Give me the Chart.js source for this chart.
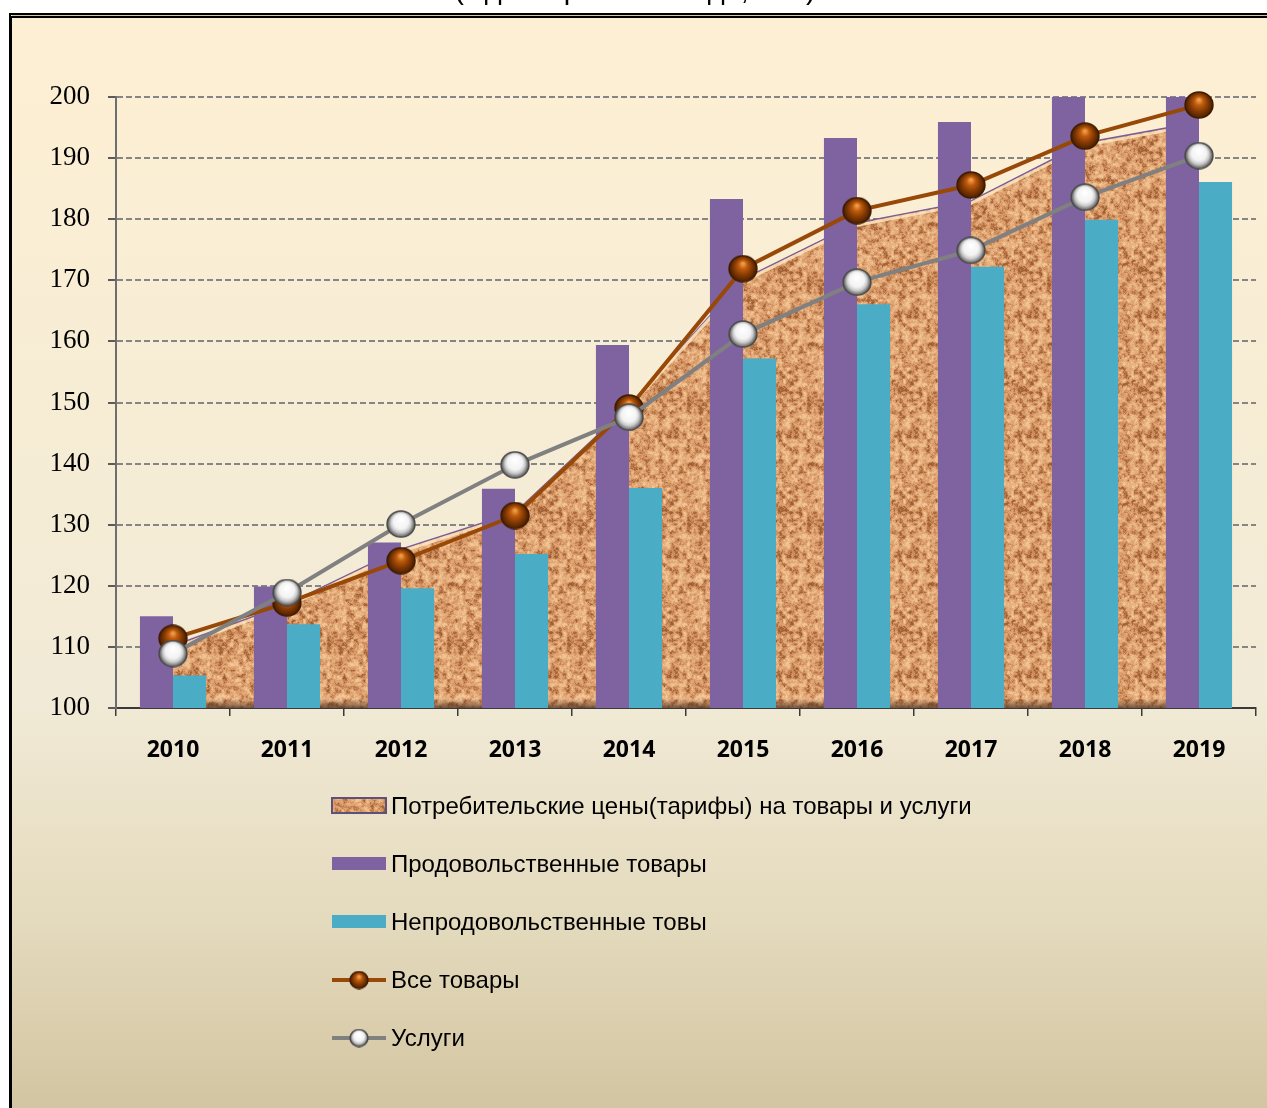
<!DOCTYPE html>
<html lang="ru">
<head>
<meta charset="utf-8">
<title>Индексы цен</title>
<script src="https://cdn.jsdelivr.net/npm/chart.js@4.4.1/dist/chart.umd.min.js"></script>
<style>
  html, body { margin: 0; padding: 0; background: #fff; }
  body { width: 1267px; height: 1108px; position: relative; overflow: hidden; }
  #frame {
    position: absolute; left: 9px; top: 13px; width: 1270px; height: 1100px;
    border-top: 5px double #000; border-left: 3px solid #000;
    background: linear-gradient(to bottom, #fdefd3 0%, #f7edd5 35%, #f1ead6 62%, #e4dabd 82%, #d2c4a0 100%);
  }
  #chart { position: absolute; left: 0; top: 0; }
</style>
</head>
<body>
<div id="frame"></div>
<canvas id="chart" width="1267" height="1108"></canvas>
<script>
const titleText = '(к декабрю 2009 года, в %)';
const years = ['2010', '2011', '2012', '2013', '2014', '2015', '2016', '2017', '2018', '2019'];
const consumerPrices = [110.2, 117.0, 126.0, 132.0, 149.5, 170.2, 179.4, 183.0, 192.5, 195.9];
const foodGoods = [115.0, 119.9, 127.1, 135.9, 159.4, 183.3, 193.3, 195.9, 200.5, 203.0];
const nonFoodGoods = [105.3, 113.7, 119.6, 125.2, 136.0, 157.2, 166.1, 172.2, 179.9, 186.1];
const allGoods = [111.4, 117.2, 124.1, 131.5, 149.1, 171.9, 181.4, 185.6, 193.6, 198.7];
const services = [108.9, 118.9, 130.1, 139.8, 147.6, 161.2, 169.7, 174.9, 183.6, 190.4];
const seriesNames = [
  'Потребительские цены(тарифы) на товары и услуги',
  'Продовольственные товары',
  'Непродовольственные товы',
  'Все товары',
  'Услуги'
];
const yMin = 100, yMax = 200, yStep = 10;

const purple = '#7f63a1';
const teal = '#4bacc6';
const brown = '#984807';
const grey = '#808080';

// cork-like texture for the area series
function makeCorkPattern() {
  const size = 120;
  const c = document.createElement('canvas');
  c.width = c.height = size;
  const g = c.getContext('2d');
  const img = g.createImageData(size, size);
  const hash = (ix, iy, seed) => {
    let h = Math.imul(ix * 374761393 + iy * 668265263 + seed * 2246822519, 1) ^ 0x5bd1e995;
    h = Math.imul(h ^ (h >>> 13), 1274126177);
    return ((h ^ (h >>> 16)) >>> 0) / 4294967295;
  };
  const noise = (x, y, cell, seed) => {
    const n = size / cell;
    const gx = x / cell, gy = y / cell;
    const x0 = Math.floor(gx), y0 = Math.floor(gy);
    const fx = gx - x0, fy = gy - y0;
    const sx = fx * fx * (3 - 2 * fx), sy = fy * fy * (3 - 2 * fy);
    const a = hash(x0 % n, y0 % n, seed), b = hash((x0 + 1) % n, y0 % n, seed);
    const c2 = hash(x0 % n, (y0 + 1) % n, seed), d = hash((x0 + 1) % n, (y0 + 1) % n, seed);
    return (a + (b - a) * sx) * (1 - sy) + (c2 + (d - c2) * sx) * sy;
  };
  const dark = [158, 94, 50], mid = [216, 152, 102], light = [243, 198, 150];
  for (let y = 0; y < size; y++) {
    for (let x = 0; x < size; x++) {
      let t = 0.5 * noise(x, y, 4, 1) + 0.32 * noise(x, y, 2, 2) + 0.18 * noise(x, y, 1, 3);
      t = Math.min(1, Math.max(0, (t - 0.22) / 0.56));
      const from = t < 0.42 ? dark : mid, to = t < 0.42 ? mid : light;
      const k = t < 0.42 ? t / 0.42 : (t - 0.42) / 0.58;
      const i = (y * size + x) * 4;
      img.data[i] = from[0] + (to[0] - from[0]) * k;
      img.data[i + 1] = from[1] + (to[1] - from[1]) * k;
      img.data[i + 2] = from[2] + (to[2] - from[2]) * k;
      img.data[i + 3] = 255;
    }
  }
  g.putImageData(img, 0, 0);
  return g.createPattern(c, 'repeat');
}

function makeSphere(w, h, stops, rim) {
  const c = document.createElement('canvas');
  c.width = w; c.height = h;
  const g = c.getContext('2d');
  const cx = w / 2, cy = h / 2, rx = w / 2 - 1, ry = h / 2 - 1;
  const grad = g.createRadialGradient(cx, cy - ry * 0.4, 1, cx, cy, Math.max(rx, ry));
  stops.forEach(s => grad.addColorStop(s[0], s[1]));
  g.beginPath();
  g.ellipse(cx, cy, rx, ry, 0, 0, Math.PI * 2);
  g.fillStyle = grad;
  g.fill();
  g.lineWidth = 1.4;
  g.strokeStyle = rim;
  g.stroke();
  return c;
}

const brownStops = [[0, '#ee9a48'], [0.26, '#be5c0c'], [0.6, '#863a04'], [0.86, '#5a2700'], [1, '#3a1800']];
const whiteStops = [[0, '#ffffff'], [0.5, '#f3f3f3'], [0.7, '#cacaca'], [0.84, '#8c8c8c'], [1, '#4c4c4c']];
const brownBall = makeSphere(30, 28, brownStops, '#3f1b00');
const whiteBall = makeSphere(30, 28, whiteStops, '#4a4a4a');
const brownBallSmall = makeSphere(20, 19, brownStops, '#3f1b00');
const whiteBallSmall = makeSphere(20, 19, whiteStops, '#4a4a4a');
const cork = makeCorkPattern();

const areaShade = {
  id: 'areaShade',
  afterDatasetDraw(chart, args) {
    if (args.index !== 0) return;
    const pts = args.meta.data;
    const ctx = chart.ctx, bottom = chart.chartArea.bottom;
    ctx.save();
    ctx.beginPath();
    pts.forEach((p, i) => i ? ctx.lineTo(p.x, p.y + 2.5) : ctx.moveTo(p.x, p.y + 2.5));
    ctx.strokeStyle = 'rgba(255, 234, 195, 0.8)';
    ctx.lineWidth = 3;
    ctx.stroke();
    const grad = ctx.createLinearGradient(0, bottom - 9, 0, bottom);
    grad.addColorStop(0, 'rgba(80, 55, 40, 0)');
    grad.addColorStop(1, 'rgba(80, 55, 40, 0.75)');
    ctx.fillStyle = grad;
    ctx.fillRect(pts[0].x, bottom - 9, pts[pts.length - 1].x - pts[0].x, 9);
    ctx.restore();
  }
};

const legendAndTitle = {
  id: 'legendAndTitle',
  afterDraw(chart) {
    const ctx = chart.ctx;
    ctx.save();
    ctx.fillStyle = '#000';
    ctx.font = '29px "Liberation Sans", Arial, sans-serif';
    ctx.textAlign = 'center';
    ctx.textBaseline = 'alphabetic';
    ctx.fillText(titleText, 635, -1);

    const x0 = 332, x1 = 386;
    ctx.textAlign = 'left';
    ctx.textBaseline = 'middle';
    seriesNames.forEach((name, i) => {
      const y = chart.chartArea.bottom + 98 + i * 58;
      if (i === 0) {
        ctx.fillStyle = cork;
        ctx.fillRect(x0, y - 8, x1 - x0, 15);
        ctx.strokeStyle = '#5f5078';
        ctx.lineWidth = 2;
        ctx.strokeRect(x0, y - 8, x1 - x0, 15);
      } else if (i < 3) {
        ctx.fillStyle = i === 1 ? purple : teal;
        ctx.fillRect(x0, y - 7, x1 - x0, 13);
      } else {
        ctx.strokeStyle = i === 3 ? brown : grey;
        ctx.lineWidth = 4;
        ctx.beginPath();
        ctx.moveTo(x0, y);
        ctx.lineTo(x1, y);
        ctx.stroke();
        const ball = i === 3 ? brownBallSmall : whiteBallSmall;
        ctx.drawImage(ball, (x0 + x1) / 2 - ball.width / 2, y - ball.height / 2);
      }
      ctx.fillStyle = '#000';
      ctx.font = '24px "Liberation Sans", Arial, sans-serif';
      ctx.fillText(name, 391, y + 1);
    });
    ctx.restore();
  }
};

new Chart(document.getElementById('chart'), {
  type: 'bar',
  data: {
    labels: years,
    datasets: [
      {
        type: 'line',
        label: seriesNames[0],
        data: consumerPrices,
        fill: 'start',
        backgroundColor: cork,
        borderColor: '#7a5e9b',
        borderWidth: 1.5,
        pointRadius: 0,
        tension: 0,
        order: 5
      },
      {
        label: seriesNames[1],
        data: foodGoods,
        backgroundColor: purple,
        categoryPercentage: 0.58,
        barPercentage: 1,
        clip: 0,
        order: 3
      },
      {
        label: seriesNames[2],
        data: nonFoodGoods,
        backgroundColor: teal,
        categoryPercentage: 0.58,
        barPercentage: 1,
        clip: 0,
        order: 3
      },
      {
        type: 'line',
        label: seriesNames[3],
        data: allGoods,
        borderColor: brown,
        borderWidth: 4,
        pointStyle: brownBall,
        pointRadius: 14,
        fill: false,
        clip: false,
        order: 2
      },
      {
        type: 'line',
        label: seriesNames[4],
        data: services,
        borderColor: grey,
        borderWidth: 4,
        pointStyle: whiteBall,
        pointRadius: 14,
        fill: false,
        clip: false,
        order: 1
      }
    ]
  },
  options: {
    responsive: false,
    animation: false,
    devicePixelRatio: 1,
    layout: { autoPadding: false, padding: { left: 0, top: 97, right: 11, bottom: 340 } },
    plugins: {
      legend: { display: false },
      tooltip: { enabled: false }
    },
    scales: {
      x: {
        afterFit: scale => {
          scale.height = 60;
          scale.paddingLeft = 0;
          scale.paddingRight = 0;
        },
        grid: { drawOnChartArea: false, drawTicks: true, tickLength: 8, offset: true, color: '#3a3a3a', lineWidth: 1.5 },
        border: { color: '#3a3a3a', width: 2 },
        ticks: {
          color: '#000',
          padding: 21,
          font: { family: '"Open Sans", sans-serif', size: 23, weight: 'bold' }
        }
      },
      y: {
        min: yMin,
        max: yMax,
        afterFit: scale => { scale.width = 116; },
        grid: { color: '#858585', lineWidth: 2, tickLength: 8, tickColor: '#5a5a5a', tickBorderDash: [] },
        border: { color: '#6e6e6e', width: 2, dash: [6, 3] },
        ticks: {
          stepSize: yStep,
          color: '#000',
          padding: 18,
          font: { family: '"Liberation Serif", serif', size: 27 }
        }
      }
    }
  },
  plugins: [areaShade, legendAndTitle]
});
</script>
</body>
</html>
